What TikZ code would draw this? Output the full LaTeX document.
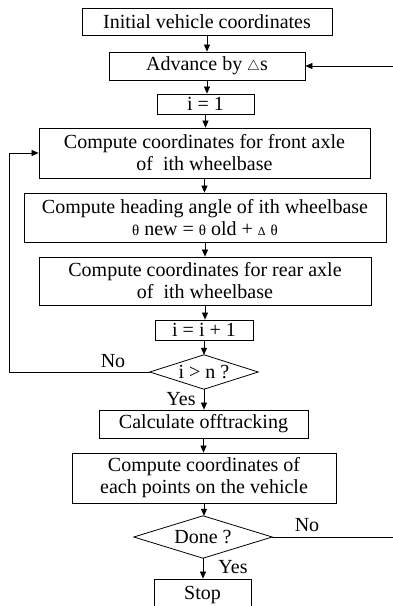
\documentclass[tikz,border=0pt]{standalone}
\usepackage{fontspec}
\setmainfont{Liberation Serif}
\usetikzlibrary{shapes.geometric,arrows.meta}
\begin{document}
\begin{tikzpicture}[x=1pt,y=-1pt,
  every node/.style={font=\fontsize{20}{22}\selectfont},
  box/.style={draw,line width=0.8pt,inner sep=0pt,align=center},
  dia/.style={inner sep=0pt},
  arr/.style={line width=0.7pt,-{Triangle[width=6pt,length=7pt]}},
  lbl/.style={inner sep=0pt}]
\useasboundingbox (0,0) rectangle (393,606);
\newcommand{\thsym}{{\fontsize{15}{15}\selectfont θ}}
\node[box,minimum width=250pt,minimum height=27pt] (b1) at (207,21.5) {Initial vehicle coordinates};
\node[box,minimum width=196pt,minimum height=28pt] (b2) at (207,66) {Advance by $\scriptstyle\triangle$s};
\node[box,minimum width=97pt,minimum height=20pt] (b3) at (205.5,104) {i = 1};
\node[box,minimum width=331pt,minimum height=50pt] (b4) at (204.5,153) {Compute coordinates for front axle\\of \ ith wheelbase};
\node[box,minimum width=362pt,minimum height=49pt] (b5) at (205,217.5) {Compute heading angle of ith wheelbase\\\thsym{} new = \thsym{} old + {\fontsize{12}{12}\selectfont Δ} \thsym};
\node[box,minimum width=332pt,minimum height=48pt] (b6) at (205,281) {Compute coordinates for rear axle\\of \ ith wheelbase};
\node[box,minimum width=98pt,minimum height=20pt] (b7) at (204,330) {i = i + 1};
\node[dia,minimum width=108pt,minimum height=34pt] (d8) at (204,372) {i > n ?};
\draw[line width=0.8pt] (d8.west) -- (d8.north) -- (d8.east) -- (d8.south) -- cycle;
\node[box,minimum width=209pt,minimum height=28pt] (b9) at (203.5,424) {Calculate offtracking};
\node[box,minimum width=264pt,minimum height=50pt] (b10) at (204,478) {Compute coordinates of\\each points on the vehicle};
\node[dia,minimum width=138pt,minimum height=42pt] (d11) at (203,537) {Done ?};
\draw[line width=0.8pt] (d11.west) -- (d11.north) -- (d11.east) -- (d11.south) -- cycle;
\node[box,minimum width=97pt,minimum height=32pt] (b12) at (202.5,595) {Stop};
\node[lbl] (no1) at (113,361) {No};
\node[lbl] (yes1) at (181,399) {Yes};
\node[lbl] (yes2) at (233,567) {Yes};
\node[lbl] (no2) at (307,525) {No};
\coordinate (rc) at (396,537);
\draw[arr] (b1.south) -- (b1.south |- b2.north);
\draw[arr] (b2.south) -- (b2.south |- b3.north);
\draw[arr] (b3.south) -- (b3.south |- b4.north);
\draw[arr] (b4.south) -- (b4.south |- b5.north);
\draw[arr] (b5.south) -- (b5.south |- b6.north);
\draw[arr] (b6.south) -- (b6.south |- b7.north);
\draw[arr] (b7.south) -- (b7.south |- d8.north);
\draw[arr] (d8.south) -- (d8.south |- b9.north);
\draw[arr] (b9.south) -- (b9.south |- b10.north);
\draw[arr] (b10.south) -- (b10.south |- d11.north);
\draw[arr] (d11.south) -- (d11.south |- b12.north);
\draw[arr] (d8.west) -- ++(-140,0) |- (b4.west);
\draw[arr] (d11.east) -- (rc) |- (b2.east);
\end{tikzpicture}
\end{document}
